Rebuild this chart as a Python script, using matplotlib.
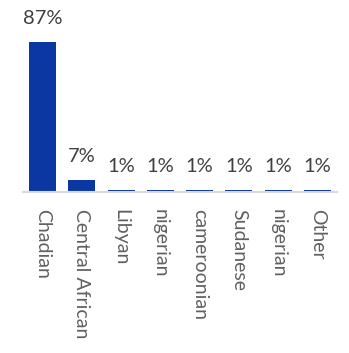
import matplotlib.pyplot as plt

categories = ['Chadian', 'Central African', 'Libyan', 'nigerian',
              'cameroonian', 'Sudanese', 'nigerian', 'Other']
shares = [87, 7, 1, 1, 1, 1, 1, 1]

plt.rcParams['font.family'] = ['Lato', 'DejaVu Sans']

fig = plt.figure(figsize=(3.49, 3.53), dpi=100)
ax = fig.add_axes([23 / 349, 161 / 353, 314 / 349, 172 / 353])

x = range(len(categories))
ax.bar(x, shares, width=0.69, color='#0a37a1', zorder=2)

for xi, v in zip(x, shares):
    ax.annotate('%d%%' % v, (xi, v), xytext=(0, 15), textcoords='offset pixels',
                ha='center', va='bottom', fontsize=14.5, color='#404040')

ax.set_xlim(-0.5, len(categories) - 0.5)
ax.set_ylim(0, 100)
ax.set_xticks(list(x))
ax.set_xticklabels(categories, rotation=270, fontsize=14, color='#606060',
                   va='top', ha='center')
ax.tick_params(axis='x', length=0, pad=12)
ax.set_yticks([])
for side in ['top', 'right', 'left']:
    ax.spines[side].set_visible(False)
ax.spines['bottom'].set_color('#d9d9d9')
ax.spines['bottom'].set_linewidth(1.5)

fig.savefig('out.png', dpi=100)
